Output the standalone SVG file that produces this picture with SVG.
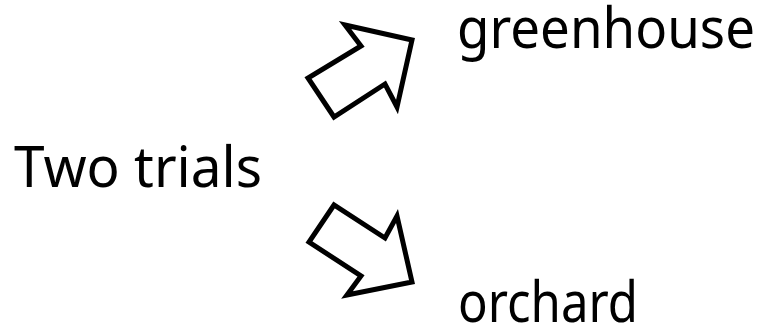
<svg xmlns="http://www.w3.org/2000/svg" width="765" height="328" viewBox="0 0 765 328">
<style>
.t{font-family:"Noto Sans","Open Sans","Liberation Sans",sans-serif;font-size:56px;fill:#000}
.a{fill:#fff;stroke:#000;stroke-width:5;stroke-linejoin:miter}
</style>
<rect width="765" height="328" fill="#fff"/>
<g id="source"><text class="t" x="14" y="187" textLength="248" lengthAdjust="spacingAndGlyphs">Two trials</text></g>
<g id="greenhouse"><text class="t" x="457" y="48" textLength="298" lengthAdjust="spacingAndGlyphs">greenhouse</text></g>
<g id="orchard"><text class="t" x="458" y="322" textLength="180" lengthAdjust="spacingAndGlyphs">orchard</text></g>
<g id="connectors">
<polygon class="a" points="412,40 345,25 361,46 308,78 334,117 385,84 397,107"/>
<polygon class="a" points="412,282 347,295 361,276 309,242 334,205 385,238 397,216"/>
</g>
</svg>
